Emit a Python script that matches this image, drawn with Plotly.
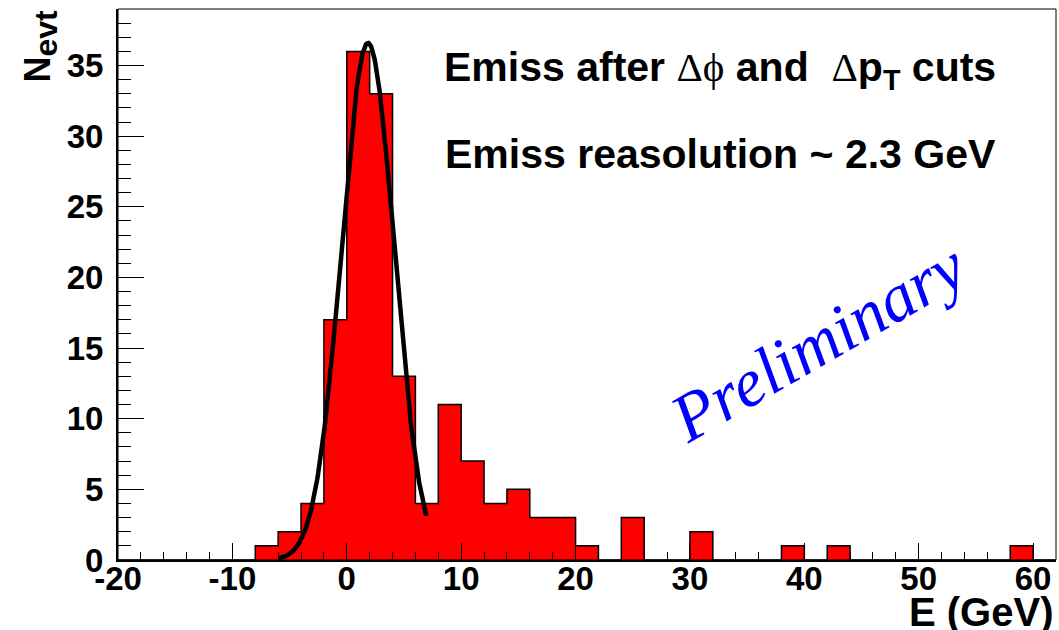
import numpy as np
import plotly.graph_objects as go

# ---- data ----
bin_width = 2
bin_low = list(range(-20, 62, 2))          # lower edges of the 41 bins
counts = [0, 0, 0, 0, 0, 0,                # -20 .. -10
          1, 2, 4, 17, 36, 33, 13, 4, 11, 7, 4, 5, 3, 3, 1, 0, 3, 0, 0, 2,
          0, 0, 0, 1, 0, 1, 0, 0, 0, 0, 0, 0, 0, 1, 0]
# Gaussian fit parameters (constant, mean, sigma) and fit range
fit_const = 36.6
fit_mean = 1.85
fit_sigma = 2.3
fit_range = [-5.95, 6.95]

x_ticks = [-20, -10, 0, 10, 20, 30, 40, 50, 60]
y_ticks = [0, 5, 10, 15, 20, 25, 30, 35]

# ---- layout geometry (pixels) ----
W, H = 1059, 630
ML, MR, MT, MB = 118, 3, 9, 70
PW, PH = W - ML - MR, H - MT - MB

def px2paper(px, py):
    return (px - ML) / PW, (H - MB - py) / PH

edges = bin_low + [bin_low[-1] + bin_width]
step_y = counts + [counts[-1]]

fx = np.linspace(fit_range[0], fit_range[1], 300)
fy = fit_const * np.exp(-0.5 * ((fx - fit_mean) / fit_sigma) ** 2)

fig = go.Figure()
fig.add_trace(go.Scatter(
    x=edges, y=step_y, mode="lines", line_shape="hv",
    line=dict(color="black", width=1.5),
    fill="tozeroy", fillcolor="#ff0000", hoverinfo="skip", showlegend=False))
fig.add_trace(go.Scatter(
    x=fx, y=fy, mode="lines", line=dict(color="black", width=4.5),
    hoverinfo="skip", showlegend=False))

BF = dict(family="Liberation Sans", color="black", weight="bold")

fig.update_layout(
    width=W, height=H,
    margin=dict(l=ML, r=MR, t=MT, b=MB, pad=0),
    paper_bgcolor="white", plot_bgcolor="white",
    showlegend=False,
    xaxis=dict(range=[-20, 62], tickvals=x_ticks, ticktext=[str(v) for v in x_ticks],
               ticks="inside", ticklen=17, tickwidth=1, tickcolor="black",
               minor=dict(dtick=2, tick0=0, ticks="inside", ticklen=8.5, tickwidth=1, tickcolor="black"),
               showline=True, linecolor="black", linewidth=2, mirror=False,
               showgrid=False, zeroline=False,
               tickfont=dict(size=33, **BF), ticklabelstandoff=-12),
    yaxis=dict(range=[0, 39], tickvals=y_ticks, ticktext=[str(v) for v in y_ticks],
               ticks="inside", ticklen=26, tickwidth=1, tickcolor="black",
               minor=dict(dtick=1, tick0=0, ticks="inside", ticklen=13, tickwidth=1, tickcolor="black"),
               showline=True, linecolor="black", linewidth=2, mirror=False,
               showgrid=False, zeroline=False,
               tickfont=dict(size=33, **BF), ticklabelstandoff=6),
)

# thin frame on top/right
fig.add_shape(type="rect", xref="paper", yref="paper", x0=0, y0=0, x1=1, y1=1,
              line=dict(color="black", width=1), layer="above")

ann = []
x1, y1 = px2paper(998, 70)
ann.append(dict(x=x1, y=y1, xref="paper", yref="paper", xanchor="right", yanchor="middle",
                text="Emiss after <span style=\"font-family:Liberation Serif;font-weight:normal\">Δϕ</span> and  "
                     "<span style=\"font-family:Liberation Serif;font-weight:normal\">Δ</span>p<sub>T</sub> cuts",
                showarrow=False, font=dict(size=41, **BF)))
x2, y2 = px2paper(998, 154)
ann.append(dict(x=x2, y=y2, xref="paper", yref="paper", xanchor="right", yanchor="middle",
                text="Emiss reasolution ~ 2.3 GeV", showarrow=False, font=dict(size=41, **BF)))
xp, yp = px2paper(818, 342)
ann.append(dict(x=xp, y=yp, xref="paper", yref="paper", xanchor="center", yanchor="middle",
                text="<i>Preliminary</i>", textangle=-30, showarrow=False,
                font=dict(family="Liberation Serif", size=68, color="#0000ff")))
xt, yt = px2paper(1055, 612)
ann.append(dict(x=xt, y=yt, xref="paper", yref="paper", xanchor="right", yanchor="middle",
                text="E (GeV)", showarrow=False, font=dict(size=40, **BF)))
xy, yy = px2paper(40, 8)
ann.append(dict(x=xy, y=yy, xref="paper", yref="paper", xanchor="center", yanchor="top",
                text="N<sub><span style=\"font-size:32px\">evt</span></sub>", textangle=-90,
                showarrow=False, font=dict(size=36, **BF)))
fig.update_layout(annotations=ann)

fig.write_html("out.html")
